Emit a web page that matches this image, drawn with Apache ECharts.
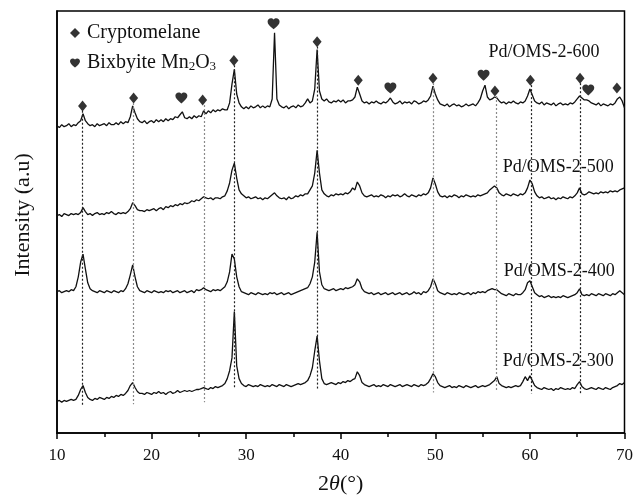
<!DOCTYPE html>
<html>
<head>
<meta charset="utf-8">
<script src="https://cdn.jsdelivr.net/npm/echarts@6/dist/echarts.min.js"></script>
<style>html,body{margin:0;padding:0;background:#fff}#c{width:636px;height:500px}</style>
</head>
<body>
<div id="c"></div>
<script>
// 2-theta sampling: start 10 deg, step 0.25 deg
const startAngle = 10, stepAngle = 0.25;
// Stacked intensities (a.u.)
const pd600 = [
311,309,312,310, 311,313,310,312, 311,314,316,323, 316,313,311,312, 310,313,311,312,
313,311,314,312, 312,314,312,315, 313,315,314,320, 331,324,318,315, 314,316,313,315,
316,314,317,315, 317,315,318,316, 318,317,320,319, 322,325,319,318, 320,318,321,319,
321,320,326,323, 326,324,327,325, 327,326,328,327, 327,334,353,368, 343,334,330,328,
330,328,331,329, 330,332,329,331, 329,331,330,338, 405,338,332,330, 329,331,328,330,
331,329,332,330, 331,334,338,334, 336,348,388,346, 338,336,338,335, 334,336,335,337,
335,337,334,336, 336,337,340,350, 343,336,334,335, 333,335,334,336, 334,333,335,334,
336,339,335,333, 334,336,333,335, 334,335,333,336, 335,333,334,336, 335,337,341,351,
343,337,333,332, 331,333,330,332, 333,331,332,330, 331,333,331,332, 333,331,334,338,
346,352,340,337, 338,340,339,336, 334,335,333,335, 334,336,334,333, 335,334,336,341,
348,342,336,334, 333,335,332,334, 333,332,334,331, 333,334,332,333, 332,334,333,335,
338,341,339,337, 337,336,334,333, 332,334,331,333, 332,331,333,332, 334,338,340,336,
329];
const pd500 = [
220,221,219,222, 221,220,222,221, 222,221,223,228, 224,221,222,220, 222,223,221,222,
221,223,222,224, 222,221,223,222, 223,222,224,227, 233,230,226,225, 225,224,226,225,
226,227,225,227, 228,226,229,228, 230,229,231,230, 232,231,233,232, 233,235,234,236,
235,237,239,238, 237,238,236,238, 238,237,239,240, 245,253,266,273, 258,246,242,240,
238,239,237,238, 239,237,238,236, 238,237,239,241, 243,240,238,237, 238,236,239,237,
238,240,239,241, 240,242,242,246, 250,263,286,263, 246,242,240,239, 241,240,242,241,
242,241,243,242, 244,248,246,254, 250,243,240,239, 240,241,239,240, 239,241,240,238,
240,239,241,240, 241,239,240,242, 240,239,241,240, 239,241,240,242, 241,243,248,258,
252,244,240,239, 240,238,240,239, 241,240,238,240, 239,241,240,239, 240,239,241,240,
241,242,243,246, 248,250,248,243, 241,240,242,241, 240,242,241,240, 242,241,243,248,
256,252,244,240, 238,239,237,238, 239,237,238,236, 238,237,239,238, 237,239,238,240,
243,248,242,241, 242,244,243,242, 243,242,244,243, 244,243,245,244, 245,244,246,247,
248];
const pd400 = [
143,144,142,143, 144,143,145,144, 148,158,173,181, 166,152,146,144, 143,142,144,143,
142,144,143,142, 144,143,142,144, 143,146,151,160, 170,158,148,144, 143,142,144,143,
142,144,143,142, 143,142,144,143, 144,142,143,144, 142,143,144,142, 143,144,142,145,
144,145,147,145, 144,143,145,144, 145,144,146,148, 153,163,181,176, 158,148,143,142,
141,140,142,141, 140,142,141,140, 141,140,142,141, 142,140,141,142, 140,141,142,140,
141,142,143,144, 145,146,147,151, 158,173,203,163, 150,146,145,144, 145,146,144,145,
146,145,147,146, 147,148,150,156, 153,146,143,142, 141,142,140,141, 142,140,141,142,
140,141,142,140, 141,142,140,141, 142,140,141,143, 141,142,140,143, 142,144,148,156,
151,144,142,141, 140,142,141,140, 141,140,142,141, 140,141,142,140, 142,141,143,142,
143,142,144,145, 146,145,145,143, 141,140,139,141, 140,139,141,140, 140,142,145,152,
154,148,142,140, 138,139,137,138, 139,137,138,137, 138,137,139,138, 137,138,139,140,
142,146,140,139, 140,139,141,140, 139,141,140,139, 141,140,139,141, 140,142,144,142,
140];
const pd300 = [
32,33,31,33, 32,33,34,33, 34,38,44,48, 41,36,34,33, 35,34,36,35,
34,36,35,37, 36,38,37,39, 38,40,43,48, 51,46,42,40, 40,39,41,40,
39,41,40,42, 40,41,39,41, 42,40,41,43, 41,42,43,42, 43,42,43,44,
44,45,46,45, 44,46,45,47, 46,47,48,50, 55,63,76,123, 68,55,50,48,
47,49,48,47, 48,47,49,48, 47,48,47,49, 48,47,49,48, 47,49,48,47,
48,49,50,49, 50,51,53,58, 66,83,98,73, 55,50,49,50, 51,50,49,51,
50,52,51,53, 52,54,55,62, 58,51,49,48, 47,48,49,47, 48,47,49,48,
47,49,48,47, 48,49,47,48, 49,48,47,49, 48,47,49,48, 49,51,55,60,
57,51,48,47, 46,47,48,46, 47,46,48,47, 46,48,47,46, 47,48,46,47,
48,47,48,49, 51,53,57,50, 48,47,46,47, 46,47,48,47, 48,52,57,53,
58,53,48,46, 45,44,46,45, 44,45,43,45, 44,46,45,44, 45,44,46,45,
49,52,47,45, 44,45,46,45, 44,46,45,44, 46,45,44,46, 47,48,50,49,
51];
const traceNames = ['Pd/OMS-2-600', 'Pd/OMS-2-500', 'Pd/OMS-2-400', 'Pd/OMS-2-300'];
const traceLabelX = [61.5, 63.0, 63.1, 63.0];
const traceLabelY = [385, 269, 164, 73];
// phase markers [2theta, intensity]
const cryptoX = [12.7, 18.1, 25.4, 28.7, 37.5, 41.85, 49.75, 56.3, 60.05, 65.3, 69.2];
const cryptoY = [331, 339, 337, 377, 396, 357, 359, 346, 357, 359, 349];
const bixbyX = [23.15, 32.9, 45.25, 55.1, 66.17];
const bixbyY = [339, 414, 349, 362, 347];
// dotted reference lines
const guideX = [12.7, 18.1, 25.6, 28.7, 37.5, 49.8, 56.4, 60.1, 65.3];
const guideTop = [326, 334, 332, 372, 391, 354, 341, 352, 354];
const guideBottom = [28, 29, 31, 45, 45, 41, 43, 40, 40];
const guideDark = [1, 0, 0, 1, 1, 0, 0, 1, 1];
const xTicks = [10, 20, 30, 40, 50, 60, 70];

const FONT = 'Liberation Serif';
const heart = 'path://M12,21.35l-1.45-1.32C5.4,15.36,2,12.28,2,8.5C2,5.42,4.42,3,7.5,3c1.74,0,3.41,0.81,4.5,2.09C13.09,3.81,14.76,3,16.5,3C19.58,3,22,5.42,22,8.5c0,3.78-3.4,6.86-8.55,11.54L12,21.35z';

function toPairs(arr) { return arr.map((v, i) => [startAngle + i * stepAngle, v]); }
const traces = [pd600, pd500, pd400, pd300];

const series = [];
series.push({
  type: 'line', name: 'guides', data: [], z: 1, silent: true,
  markLine: {
    silent: true, symbol: 'none', animation: false,
    label: {show: false},
    data: guideX.map((x, i) => [
      {coord: [x, guideTop[i]], lineStyle: {color: guideDark[i] ? '#222' : '#8a8a8a', type: [2, 2], width: 1.2}},
      {coord: [x, guideBottom[i]]}
    ])
  }
});
traces.forEach((t, k) => {
  series.push({
    type: 'line', name: traceNames[k], data: toPairs(t), showSymbol: false, z: 3,
    lineStyle: {color: '#111', width: 1.3}, silent: true,
    markPoint: {
      symbol: 'circle', symbolSize: 0, silent: true,
      label: {show: true, formatter: traceNames[k], fontFamily: FONT, fontSize: 18, color: '#111', position: 'inside'},
      data: [{coord: [traceLabelX[k], traceLabelY[k]]}]
    }
  });
});
series.push({
  type: 'scatter', name: 'Cryptomelane', symbol: 'diamond', symbolSize: [9, 11], z: 4,
  itemStyle: {color: '#000'}, data: cryptoX.map((x, i) => [x, cryptoY[i]])
});
series.push({
  type: 'scatter', name: 'Bixbyite Mn2O3', symbol: heart, symbolSize: [12, 11], z: 4,
  itemStyle: {color: '#000'}, data: bixbyX.map((x, i) => [x, bixbyY[i]])
});

const chart = echarts.init(document.getElementById('c'), null, {renderer: 'canvas'});
chart.setOption({
  animation: false,
  backgroundColor: '#fff',
  grid: {left: 57, right: 9, top: 11, bottom: 62, show: true, borderColor: '#000', borderWidth: 1.5},
  legend: {
    data: ['Cryptomelane', 'Bixbyite Mn2O3'],
    orient: 'vertical', left: 70, top: 23, padding: 0, itemGap: 5,
    itemWidth: 10, itemHeight: 10,
    formatter: n => n === 'Bixbyite Mn2O3' ? 'Bixbyite Mn{s|2}O{s|3}' : n,
    textStyle: {
      fontFamily: FONT, fontSize: 20, color: '#111', lineHeight: 20, padding: [0, 0, 0, 2],
      rich: {s: {fontFamily: FONT, fontSize: 13, color: '#111', verticalAlign: 'bottom', lineHeight: 20, padding: [12, 0, 0, 0]}}
    }
  },
  xAxis: {
    type: 'value', min: 10, max: 70, interval: 10,
    axisLine: {lineStyle: {color: '#000', width: 1.5}},
    axisTick: {length: 6, lineStyle: {color: '#000', width: 1.5}},
    minorTick: {show: true, splitNumber: 2, length: 4, lineStyle: {color: '#000', width: 1.5}},
    splitLine: {show: false},
    axisLabel: {fontFamily: FONT, fontSize: 17, color: '#111', margin: 14,
      formatter: v => xTicks.includes(v) ? String(v) : ''},
    name: '2{i|θ}(°)', nameLocation: 'middle', nameGap: 40,
    nameTextStyle: {fontFamily: FONT, fontSize: 22, color: '#111',
      rich: {i: {fontFamily: FONT, fontSize: 22, fontStyle: 'italic', color: '#111'}}}
  },
  yAxis: {
    type: 'value', min: 0, max: 427,
    axisLine: {show: true, lineStyle: {color: '#000', width: 1.5}},
    axisTick: {show: false}, axisLabel: {show: false}, splitLine: {show: false},
    name: 'Intensity (a.u)', nameLocation: 'middle', nameGap: 23,
    nameTextStyle: {fontFamily: FONT, fontSize: 22, color: '#111', padding: [0, 0, 0, 14]}
  },
  series: series
});
</script>
</body>
</html>
